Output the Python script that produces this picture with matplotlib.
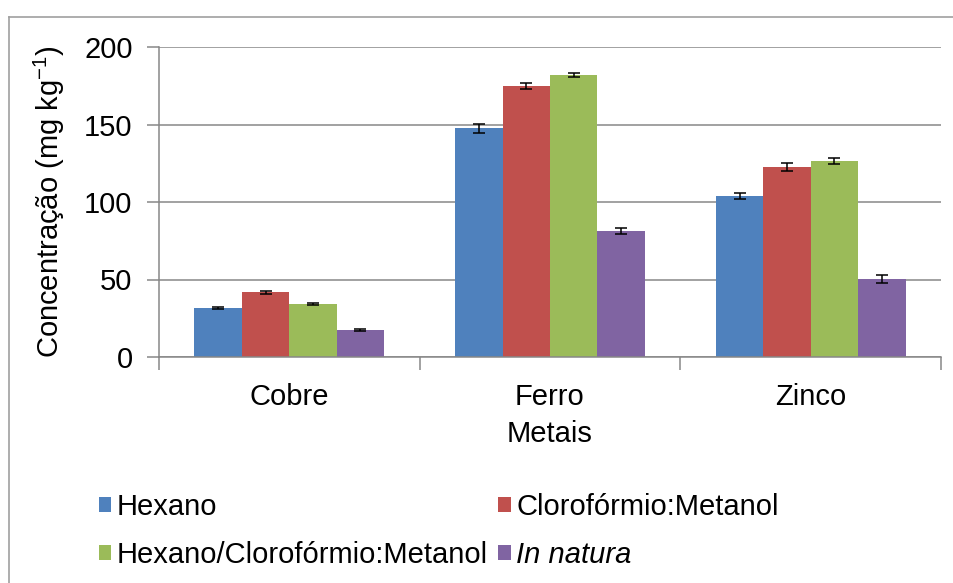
import numpy as np
import matplotlib
matplotlib.use("Agg")
import matplotlib.pyplot as plt
from matplotlib.lines import Line2D

plt.rcParams['font.family'] = ['Liberation Sans', 'DejaVu Sans']

# Concentração de metais por método de extração
metais = ['Cobre', 'Ferro', 'Zinco']
series = ['Hexano', 'Clorofórmio:Metanol', 'Hexano/Clorofórmio:Metanol', 'In natura']
hexano = [31.6, 147.7, 103.9]
cloro_metanol = [41.9, 174.8, 122.6]
hex_cloro_metanol = [34.2, 182.0, 126.5]
in_natura = [17.4, 81.3, 50.3]
err_hexano = [0.5, 2.9, 1.8]
err_cloro_metanol = [1.0, 1.8, 2.6]
err_hex_cloro_metanol = [0.7, 1.3, 1.8]
err_in_natura = [0.4, 1.9, 2.4]
cores = ['#4F81BD', '#C0504D', '#9BBB59', '#8064A2']

valores = [hexano, cloro_metanol, hex_cloro_metanol, in_natura]
erros = [err_hexano, err_cloro_metanol, err_hex_cloro_metanol, err_in_natura]

fig = plt.figure(figsize=(9.54, 5.83), dpi=100)
ax = fig.add_axes([159 / 954, 1 - 357 / 583, (941 - 159) / 954, (357 - 47) / 583])

grid_color = '#878787'
x = np.arange(len(metais))
largura = 0.182
handles = []
for i, (vals, errs, cor) in enumerate(zip(valores, erros, cores)):
    pos = x + (i - 1.5) * largura
    b = ax.bar(pos, vals, largura, color=cor, edgecolor='none', zorder=2)
    ax.errorbar(pos, vals, yerr=errs, fmt='none', ecolor='black',
                elinewidth=1.1, capsize=4.5, capthick=1.1, zorder=3)
    handles.append(b)

ax.set_xlim(-0.5, 2.5)
ax.set_ylim(0, 200)
ax.set_yticks([0, 50, 100, 150, 200])
ax.yaxis.grid(True, color=grid_color, linewidth=1.1, zorder=0)
ax.set_axisbelow(True)

# ticks do eixo x nas divisões entre categorias
ax.set_xticks([-0.5, 0.5, 1.5, 2.5])
ax.set_xticklabels([])
ax.set_xticks(x, minor=True)
ax.set_xticklabels(metais, minor=True)
ax.tick_params(axis='x', which='major', length=9, width=1.1, color=grid_color)
ax.tick_params(axis='x', which='minor', length=0, pad=19, labelsize=21)
ax.tick_params(axis='y', length=9, width=1.1, color=grid_color, pad=10, labelsize=21)

for lado in ['top', 'right']:
    ax.spines[lado].set_visible(False)
for lado in ['left', 'bottom']:
    ax.spines[lado].set_color(grid_color)
    ax.spines[lado].set_linewidth(1.1)

ax.set_ylabel('Concentração (mg kg$^{\\mathregular{-1}}$)', fontsize=21, labelpad=12)
ax.set_xlabel('Metais', fontsize=21, labelpad=6)

# legenda em duas colunas (ordem por coluna)
ordem = [0, 2, 1, 3]
leg = fig.legend([handles[k] for k in ordem], [series[k] for k in ordem],
                 ncol=2, loc='upper left', bbox_to_anchor=(99 / 954, 1 - 493 / 583),
                 frameon=False, fontsize=21, borderpad=0, borderaxespad=0,
                 handlelength=0.42, handleheight=0.42, handletextpad=0.2,
                 columnspacing=0.35, labelspacing=0.68)
for t in leg.get_texts():
    if t.get_text() == 'In natura':
        t.set_fontstyle('italic')

# moldura da área do gráfico
borda = '#a0a0a0'
fig.add_artist(Line2D([9 / 954, 9 / 954], [0, 1 - 17 / 583], color=borda, linewidth=1.2,
                      transform=fig.transFigure))
fig.add_artist(Line2D([9 / 954, 1], [1 - 17 / 583, 1 - 17 / 583], color=borda, linewidth=1.2,
                      transform=fig.transFigure))

fig.savefig('out.png', dpi=100)
